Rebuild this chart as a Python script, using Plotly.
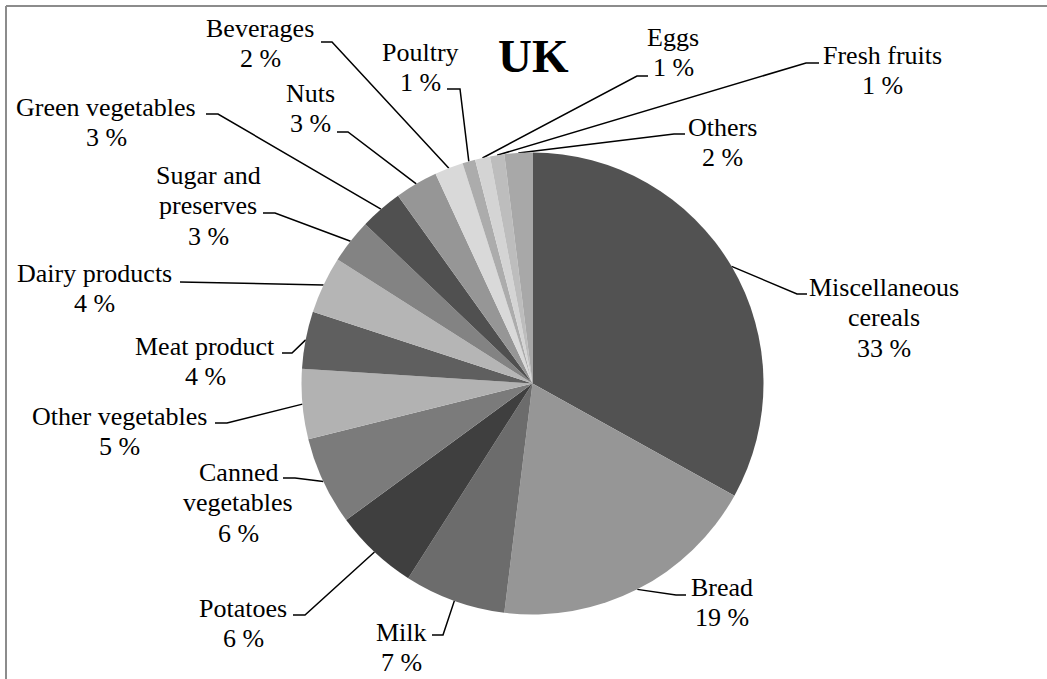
import math
import plotly.graph_objects as go

# ---------------- data ----------------
categories = [
    "Miscellaneous\ncereals", "Bread", "Milk", "Potatoes", "Canned\nvegetables",
    "Other vegetables", "Meat product", "Dairy products", "Sugar and\npreserves",
    "Green vegetables", "Nuts", "Beverages", "Poultry", "Eggs", "Fresh fruits", "Others",
]
values = [33.1, 18.9, 7.1, 5.9, 6.2, 4.9, 4.0, 4.0, 3.1, 3.0, 3.0, 2.0, 0.9, 1.05, 1.0, 1.95]
colors = [
    "#525252", "#969696", "#6c6c6c", "#3f3f3f", "#7b7b7b",
    "#b2b2b2", "#5f5f5f", "#b5b5b5", "#838383",
    "#505050", "#969696", "#d9d9d9", "#acacac", "#d4d4d4", "#bdbdbd", "#a8a8a8",
]
title_text = "UK"

# ---------------- layout constants (pixels) ----------------
W, H = 1047, 679
CX, CY, R = 532.5, 383.5, 231.0
FONT = "Liberation Serif, Times New Roman, serif"
FS = 26
LINE_GAP = 30.5
# per label: text centre x, first-line centre y, hook x, elbow x, hook y
label_layout = [
    (884, 287, 807, 797, 294),
    (722, 587, 686, 676, 595),
    (401, 632, 432, 443, 635),
    (243, 608, 293, 305, 615),
    (238, 472, 283, 295, 478),
    (119, 416, 215, 227, 423),
    (205, 346, 282, 292, 353),
    (94, 273, 180, 191, 282),
    (208, 175, 263, 275, 213),
    (106, 107, 206, 218, 114),
    (310, 93, 337, 348, 132),
    (260, 28, 321, 332, 42),
    (420, 52, 447, 460, 89),
    (673, 37, 648, 637, 76),
    (882, 55, 819, 806, 63),
    (722, 127, 685, 674, 134),
]

fig = go.Figure()

fig.add_trace(go.Pie(
    labels=[c.replace("\n", " ") for c in categories],
    values=values,
    sort=False,
    direction="clockwise",
    rotation=0,
    marker=dict(colors=colors, line=dict(width=0)),
    textinfo="none",
    hoverinfo="label+percent",
    showlegend=False,
    domain=dict(
        x=[(CX - R) / W, (CX + R) / W],
        y=[(H - CY - R) / H, (H - CY + R) / H],
    ),
))

total = sum(values)
annotations = []
cum = 0.0
for name, v, (tx, ty, hx, ex, hy) in zip(categories, values, label_layout):
    mid = (cum + v / 2) / total
    cum += v
    ang = 2 * math.pi * mid
    px = CX + R * math.sin(ang)
    py = CY - R * math.cos(ang)
    fig.add_trace(go.Scatter(
        x=[px, ex, hx], y=[py, hy, hy], mode="lines",
        line=dict(color="black", width=1.5),
        hoverinfo="skip", showlegend=False,
    ))
    lines = name.split("\n") + [f"{round(v / total * 100)} %"]
    for i, ln in enumerate(lines):
        annotations.append(dict(
            x=tx, y=ty + i * LINE_GAP, xref="x", yref="y",
            text=ln, showarrow=False, xanchor="center", yanchor="middle",
            font=dict(family=FONT, size=FS, color="black"),
        ))

annotations.append(dict(
    x=533, y=56, xref="x", yref="y", text=f"<b>{title_text}</b>", showarrow=False,
    xanchor="center", yanchor="middle",
    font=dict(family=FONT, size=47, color="black"),
))

fig.update_layout(
    width=W, height=H,
    margin=dict(l=0, r=0, t=0, b=0),
    paper_bgcolor="white", plot_bgcolor="rgba(0,0,0,0)",
    xaxis=dict(range=[0, W], visible=False, fixedrange=True, domain=[0, 1]),
    yaxis=dict(range=[H, 0], visible=False, fixedrange=True, domain=[0, 1]),
    annotations=annotations,
    shapes=[
        dict(type="line", xref="x", yref="y", x0=6, x1=W, y0=6, y1=6,
             line=dict(color="#8c8c8c", width=2)),
        dict(type="line", xref="x", yref="y", x0=6, x1=6, y0=6, y1=H,
             line=dict(color="#8c8c8c", width=2)),
    ],
    showlegend=False,
)

fig.write_html("out.html")
